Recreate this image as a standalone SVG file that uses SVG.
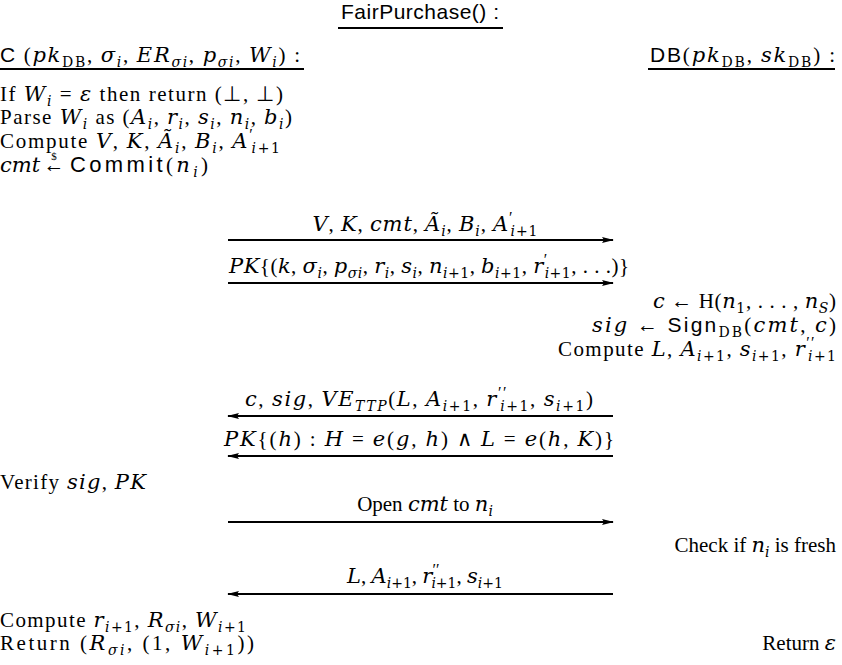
<svg xmlns="http://www.w3.org/2000/svg" width="842" height="665" viewBox="0 0 842 665">
<defs>
<style>
text{font-family:"Liberation Serif","Times New Roman",serif;font-size:21px;fill:#000}
.i{font-family:"DejaVu Serif",serif;font-style:italic;font-size:21px}
.sf{font-family:"Liberation Sans",Arial,sans-serif;font-size:21px}
.sb{font-family:"DejaVu Serif",serif;font-size:14px;baseline-shift:-5px}
.sbi{font-family:"DejaVu Serif",serif;font-size:14px;baseline-shift:-5px;font-style:italic}
.sp{font-size:16px;baseline-shift:8px}
.ln{stroke:#000;stroke-width:2;fill:none}
.ul{stroke:#000;stroke-width:2}
</style>
<marker id="ah" viewBox="0 0 12 6" refX="11" refY="3" markerWidth="12" markerHeight="6" markerUnits="userSpaceOnUse" orient="auto">
<path d="M0,0 L12,3 L0,6 L2,3 Z" fill="#000"/>
</marker>
</defs>

<g id="title">
<text x="420" y="19" text-anchor="middle" class="sf" textLength="158" lengthAdjust="spacing">FairPurchase() :</text>
<line class="ul" x1="338" y1="28" x2="503" y2="28"/>
</g>

<g id="client-header">
<text x="0" y="62" textLength="300" lengthAdjust="spacing"><tspan class="sf">C</tspan> (<tspan class="i">pk</tspan><tspan class="sb">DB</tspan>, <tspan class="i">σ</tspan><tspan class="sbi">i</tspan>, <tspan class="i">ER</tspan><tspan class="sbi">σi</tspan>, <tspan class="i">p</tspan><tspan class="sbi">σi</tspan>, <tspan class="i">W</tspan><tspan class="sbi">i</tspan>) :</text>
<line class="ul" x1="0" y1="69" x2="304" y2="69"/>
</g>

<g id="db-header">
<text x="835" y="62" text-anchor="end" textLength="185" lengthAdjust="spacing"><tspan class="sf">DB</tspan>(<tspan class="i">pk</tspan><tspan class="sb">DB</tspan>, <tspan class="i">sk</tspan><tspan class="sb">DB</tspan>) :</text>
<line class="ul" x1="648" y1="69" x2="835" y2="69"/>
</g>

<g id="client-steps-1">
<text x="0" y="101" textLength="283" lengthAdjust="spacing">If <tspan class="i">W</tspan><tspan class="sbi">i</tspan> = <tspan class="i">ε</tspan> then return (⊥, ⊥)</text>
<text x="0" y="124" textLength="292" lengthAdjust="spacing">Parse <tspan class="i">W</tspan><tspan class="sbi">i</tspan> as (<tspan class="i">A</tspan><tspan class="sbi">i</tspan>, <tspan class="i">r</tspan><tspan class="sbi">i</tspan>, <tspan class="i">s</tspan><tspan class="sbi">i</tspan>, <tspan class="i">n</tspan><tspan class="sbi">i</tspan>, <tspan class="i">b</tspan><tspan class="sbi">i</tspan>)</text>
<text x="0" y="148" textLength="280" lengthAdjust="spacing">Compute <tspan class="i">V</tspan>, <tspan class="i">K</tspan>, <tspan class="i">Ã</tspan><tspan class="sbi">i</tspan>, <tspan class="i">B</tspan><tspan class="sbi">i</tspan>, <tspan class="i">A</tspan><tspan class="sp">′</tspan><tspan class="sbi" dx="-3">i</tspan><tspan class="sb">+1</tspan></text>
<text x="0" y="172"><tspan class="i">cmt</tspan></text>
<text x="54" y="172" text-anchor="middle">←</text>
<text x="54" y="160" text-anchor="middle" style="font-size:11px">$</text>
<text x="70" y="172" textLength="138" lengthAdjust="spacing"><tspan class="sf" style="font-size:22px">Commit</tspan>(<tspan class="i">n</tspan><tspan class="sbi">i</tspan>)</text>
</g>

<g id="db-steps-1">
<text x="836" y="308" text-anchor="end" textLength="183" lengthAdjust="spacing"><tspan class="i">c</tspan> ← H(<tspan class="i">n</tspan><tspan class="sb">1</tspan>, . . . , <tspan class="i">n</tspan><tspan class="sbi">S</tspan>)</text>
<text x="836" y="332" text-anchor="end" textLength="244" lengthAdjust="spacing"><tspan class="i">sig</tspan> ← <tspan class="sf">Sign</tspan><tspan class="sb">DB</tspan>(<tspan class="i">cmt</tspan>, <tspan class="i">c</tspan>)</text>
<text x="836" y="356" text-anchor="end" textLength="278" lengthAdjust="spacing">Compute <tspan class="i">L</tspan>, <tspan class="i">A</tspan><tspan class="sbi">i</tspan><tspan class="sb">+1</tspan>, <tspan class="i">s</tspan><tspan class="sbi">i</tspan><tspan class="sb">+1</tspan>, <tspan class="i">r</tspan><tspan class="sp">′′</tspan><tspan class="sbi" dx="-8">i</tspan><tspan class="sb">+1</tspan></text>
</g>

<g id="client-steps-2">
<text x="0" y="489" textLength="146" lengthAdjust="spacing">Verify <tspan class="i">sig</tspan>, <tspan class="i">PK</tspan></text>
</g>

<g id="db-steps-2">
<text x="836" y="552" text-anchor="end">Check if <tspan class="i">n</tspan><tspan class="sbi">i</tspan> is fresh</text>
</g>

<g id="client-steps-3">
<text x="0" y="627" textLength="246" lengthAdjust="spacing">Compute <tspan class="i">r</tspan><tspan class="sbi">i</tspan><tspan class="sb">+1</tspan>, <tspan class="i">R</tspan><tspan class="sbi">σi</tspan>, <tspan class="i">W</tspan><tspan class="sbi">i</tspan><tspan class="sb">+1</tspan></text>
<text x="0" y="650" textLength="254" lengthAdjust="spacing">Return (<tspan class="i">R</tspan><tspan class="sbi">σi</tspan>, (1, <tspan class="i">W</tspan><tspan class="sbi">i</tspan><tspan class="sb">+1</tspan>))</text>
</g>

<g id="db-steps-3">
<text x="836" y="650" text-anchor="end">Return <tspan class="i">ε</tspan></text>
</g>

<g id="connectors">
<line class="ln" x1="228" y1="240" x2="613" y2="240" marker-end="url(#ah)"/>
<line class="ln" x1="228" y1="283" x2="613" y2="283" marker-end="url(#ah)"/>
<line class="ln" x1="613" y1="416" x2="228" y2="416" marker-end="url(#ah)"/>
<line class="ln" x1="613" y1="456" x2="228" y2="456" marker-end="url(#ah)"/>
<line class="ln" x1="228" y1="522" x2="613" y2="522" marker-end="url(#ah)"/>
<line class="ln" x1="613" y1="594" x2="228" y2="594" marker-end="url(#ah)"/>
<text x="425" y="231" text-anchor="middle" textLength="225" lengthAdjust="spacing"><tspan class="i">V</tspan>, <tspan class="i">K</tspan>, <tspan class="i">cmt</tspan>, <tspan class="i">Ã</tspan><tspan class="sbi">i</tspan>, <tspan class="i">B</tspan><tspan class="sbi">i</tspan>, <tspan class="i">A</tspan><tspan class="sp">′</tspan><tspan class="sbi" dx="-3">i</tspan><tspan class="sb">+1</tspan></text>
<text x="429" y="273" text-anchor="middle" textLength="400" lengthAdjust="spacing"><tspan class="i">PK</tspan>{(<tspan class="i">k</tspan>, <tspan class="i">σ</tspan><tspan class="sbi">i</tspan>, <tspan class="i">p</tspan><tspan class="sbi">σi</tspan>, <tspan class="i">r</tspan><tspan class="sbi">i</tspan>, <tspan class="i">s</tspan><tspan class="sbi">i</tspan>, <tspan class="i">n</tspan><tspan class="sbi">i</tspan><tspan class="sb">+1</tspan>, <tspan class="i">b</tspan><tspan class="sbi">i</tspan><tspan class="sb">+1</tspan>, <tspan class="i">r</tspan><tspan class="sp">′</tspan><tspan class="sbi" dx="-3">i</tspan><tspan class="sb">+1</tspan>, . . .)}</text>
<text x="419" y="406" text-anchor="middle" textLength="348" lengthAdjust="spacing"><tspan class="i">c</tspan>, <tspan class="i">sig</tspan>, <tspan class="i">VE</tspan><tspan class="sbi">TTP</tspan>(<tspan class="i">L</tspan>, <tspan class="i">A</tspan><tspan class="sbi">i</tspan><tspan class="sb">+1</tspan>, <tspan class="i">r</tspan><tspan class="sp">′′</tspan><tspan class="sbi" dx="-8">i</tspan><tspan class="sb">+1</tspan>, <tspan class="i">s</tspan><tspan class="sbi">i</tspan><tspan class="sb">+1</tspan>)</text>
<text x="419" y="446" text-anchor="middle" textLength="390" lengthAdjust="spacing"><tspan class="i">PK</tspan>{(<tspan class="i">h</tspan>) : <tspan class="i">H</tspan> = <tspan class="i">e</tspan>(<tspan class="i">g</tspan>, <tspan class="i">h</tspan>) ∧ <tspan class="i">L</tspan> = <tspan class="i">e</tspan>(<tspan class="i">h</tspan>, <tspan class="i">K</tspan>)}</text>
<text x="425" y="511" text-anchor="middle">Open <tspan class="i">cmt</tspan> to <tspan class="i">n</tspan><tspan class="sbi">i</tspan></text>
<text x="425" y="583" text-anchor="middle"><tspan class="i">L</tspan>, <tspan class="i">A</tspan><tspan class="sbi">i</tspan><tspan class="sb">+1</tspan>, <tspan class="i">r</tspan><tspan class="sp">′′</tspan><tspan class="sbi" dx="-8">i</tspan><tspan class="sb">+1</tspan>, <tspan class="i">s</tspan><tspan class="sbi">i</tspan><tspan class="sb">+1</tspan></text>
</g>
</svg>
